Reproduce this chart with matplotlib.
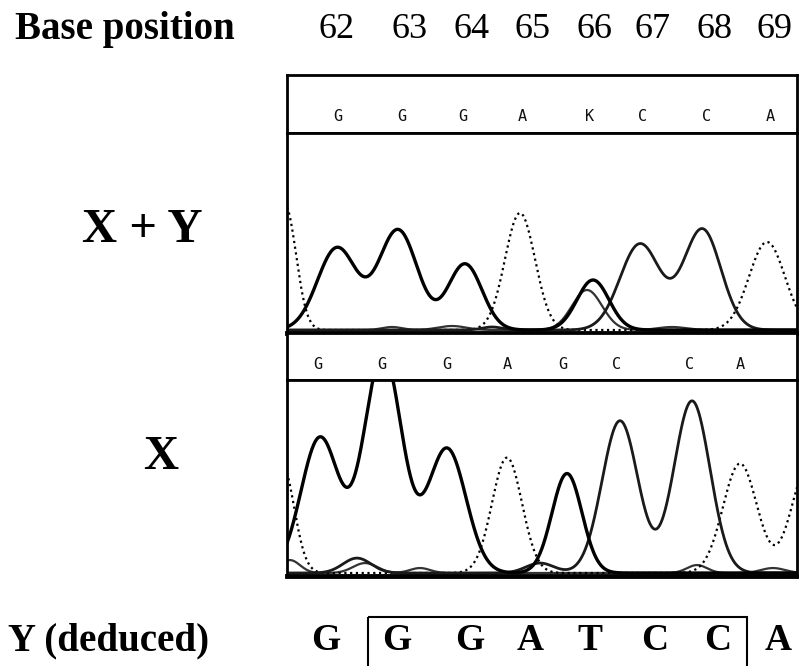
import numpy as np
import matplotlib
matplotlib.use("Agg")
import matplotlib.pyplot as plt
from matplotlib.patches import Rectangle

# ---- data (x in scan units across the trace window) ----
positions = ["62", "63", "64", "65", "66", "67", "68", "69"]
position_px = [337, 410, 472, 532, 595, 652, 715, 775]

upper_calls = ["G", "G", "G", "A", "K", "C", "C", "A"]
upper_call_scan = [51, 115, 176, 235, 303, 356, 420, 483]
lower_calls = ["G", "G", "G", "A", "G", "C", "C", "A"]
lower_call_scan = [31, 95, 160, 220, 276, 330, 403, 453]

deduced = ["G", "G", "G", "A", "T", "C", "C", "A"]
deduced_px = [326, 397, 470, 530, 590, 655, 718, 778]

# peaks: channel, centre, height, width
upper_base = ["A", "G", "G", "G", "A", "T", "G", "C", "C", "A",
              "T", "T", "C", "T", "C"]
upper_center = [-2, 50, 111, 178, 233, 300, 306, 353, 415, 480,
                105, 165, 205, 385, 420]
upper_height = [125, 82, 100, 66, 117, 40, 50, 86, 98, 88,
                3, 4, 3, 3, 3]
upper_width = [11, 19.5, 19.5, 17, 15, 15, 16, 20, 19, 18,
               10, 14, 10, 14, 12]

lower_base = ["A", "G", "G", "G", "A", "G", "C", "C", "A", "A",
              "C", "T", "T", "C", "T", "T", "T"]
lower_center = [-5, 33, 96, 160, 220, 280, 333, 405, 453, 522,
                70, 78, 133, 253, 410, 486, 3]
lower_height = [110, 136, 220, 125, 116, 100, 153, 173, 110, 110,
                15, 10, 5, 10, 8, 5, 13]
lower_width = [12, 19, 19, 19, 15, 15, 18, 18, 17, 17,
               14, 12, 10, 14, 10, 12, 10]

styles = {
    "G": dict(color="black", lw=2.4, ls="-"),
    "C": dict(color="#1a1a1a", lw=2.0, ls="-"),
    "A": dict(color="black", lw=1.6, ls=(0, (1, 1.6))),
    "T": dict(color="#333333", lw=1.6, ls="-"),
}

W, H = 799, 666
fig = plt.figure(figsize=(W / 100, H / 100), dpi=100)


def box(top, bottom, left=287, right=797):
    return [left / W, 1 - bottom / H, (right - left) / W, (bottom - top) / H]


def draw_trace(ax, base, center, height, width, ymax):
    scan = np.linspace(0, 510, 1200)
    for ch in ["T", "A", "C", "G"]:
        sig = np.zeros_like(scan)
        for b, c, h, w in zip(base, center, height, width):
            if b == ch:
                sig += h * np.exp(-(scan - c) ** 2 / (2 * w ** 2))
        ax.plot(scan, sig, **styles[ch])
    ax.set_xlim(0, 510)
    ax.set_ylim(-3, ymax)
    ax.set_xticks([])
    ax.set_yticks([])
    for s in ax.spines.values():
        s.set_linewidth(2.0)
    ax.spines["bottom"].set_linewidth(3.5)


def draw_header(ax, calls, call_scan, yfrac):
    ax.set_xlim(0, 510)
    ax.set_ylim(0, 1)
    ax.set_xticks([])
    ax.set_yticks([])
    for s in ax.spines.values():
        s.set_linewidth(2.0)
    for c, x in zip(calls, call_scan):
        ax.text(x, yfrac, c, ha="center", va="center", fontsize=11,
                family="DejaVu Sans Mono", color="#111111")


ax_h1 = fig.add_axes(box(75, 133))
draw_header(ax_h1, upper_calls, upper_call_scan, 0.28)
ax_t1 = fig.add_axes(box(133, 333))
draw_trace(ax_t1, upper_base, upper_center, upper_height, upper_width, 197)

ax_h2 = fig.add_axes(box(333, 380))
draw_header(ax_h2, lower_calls, lower_call_scan, 0.32)
ax_t2 = fig.add_axes(box(380, 576))
draw_trace(ax_t2, lower_base, lower_center, lower_height, lower_width, 194)

# text overlay in pixel coordinates
ax_txt = fig.add_axes([0, 0, 1, 1], zorder=-1)
ax_txt.set_xlim(0, W)
ax_txt.set_ylim(H, 0)
ax_txt.axis("off")

serif = "Liberation Serif"
ax_txt.text(15, 30, "Base position", fontsize=28, fontweight="bold",
            family=serif, ha="left", va="center")
for lab, x in zip(positions, position_px):
    ax_txt.text(x, 29, lab, fontsize=26, family=serif, ha="center", va="center")

ax_txt.text(142, 230, "X + Y", fontsize=35, fontweight="bold", family=serif,
            ha="center", va="center")
ax_txt.text(161, 457, "X", fontsize=35, fontweight="bold", family=serif,
            ha="center", va="center")

ax_txt.text(8, 641, "Y (deduced)", fontsize=28, fontweight="bold",
            family=serif, ha="left", va="center")
for lab, x in zip(deduced, deduced_px):
    ax_txt.text(x, 641, lab, fontsize=27, fontweight="bold", family=serif,
                ha="center", va="center")
ax_txt.add_patch(Rectangle((368, 617), 747 - 368, 80, fill=False,
                           lw=1.5, ec="black"))

fig.savefig("out.png", dpi=100, facecolor="white")
